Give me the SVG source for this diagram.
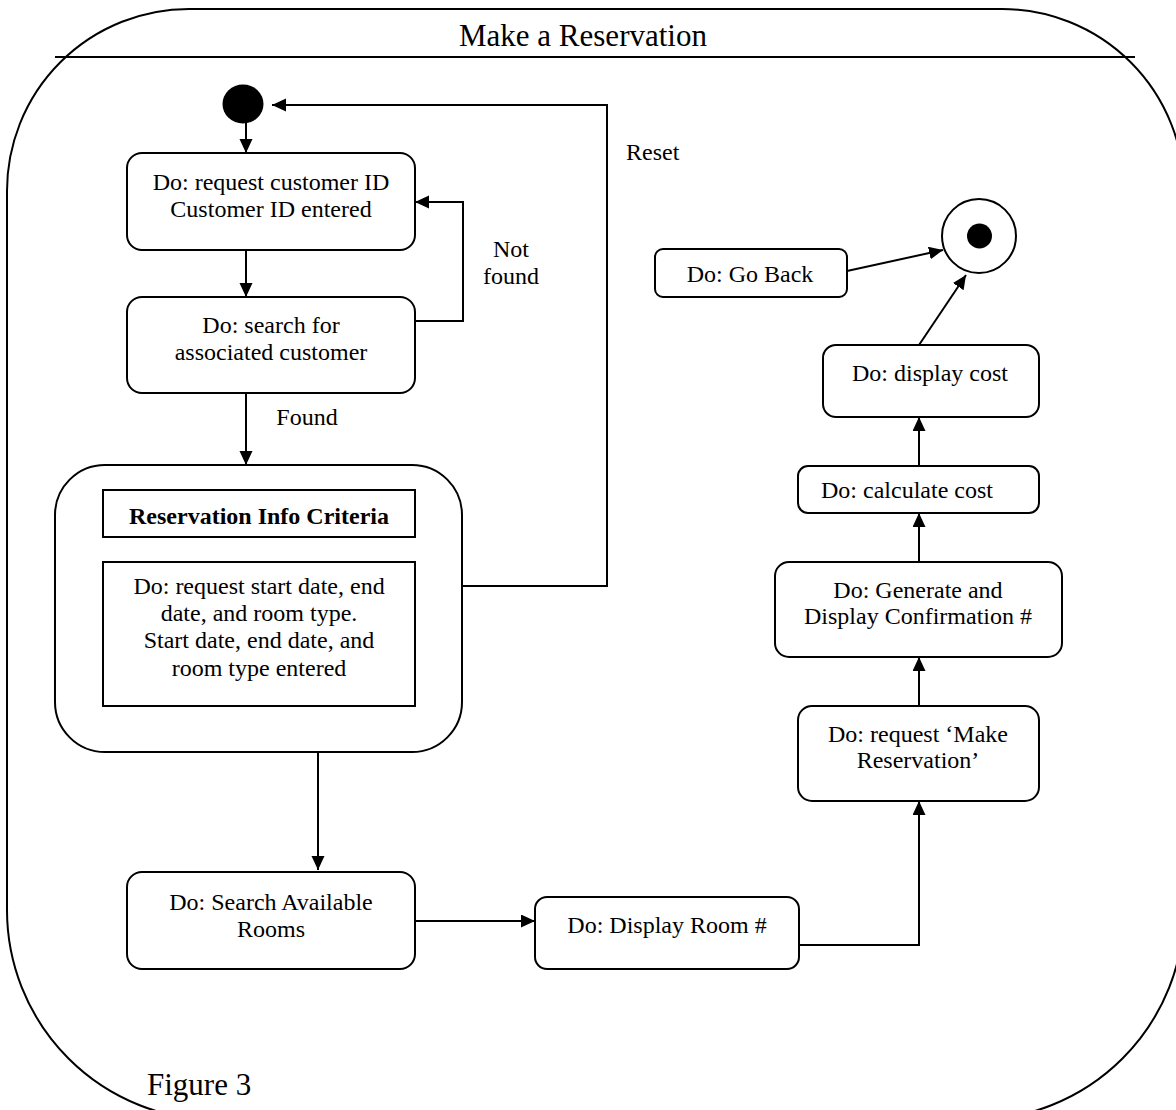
<svg xmlns="http://www.w3.org/2000/svg" width="1176" height="1110" viewBox="0 0 1176 1110">
  <defs>
    <style>
      .frame { fill: none; stroke: #000; stroke-width: 2; }
      .box { fill: #fff; stroke: #000; stroke-width: 2; }
      .edge { fill: none; stroke: #000; stroke-width: 2; marker-end: url(#arrow); }
      .line { fill: none; stroke: #000; stroke-width: 2; }
      text { font-family: "Liberation Serif", "Times New Roman", serif; font-size: 24px; fill: #000; }
      .c { text-anchor: middle; }
      .bold { font-weight: bold; }
      .big { font-size: 31px; }
    </style>
    <marker id="arrow" markerUnits="userSpaceOnUse" markerWidth="15" markerHeight="14" refX="14" refY="6.5" orient="auto">
      <path d="M0,0 L14,6.5 L0,13 Z" fill="#000"/>
    </marker>
  </defs>
  <rect width="1176" height="1110" fill="#fff"/>

  <!-- enclosing superstate -->
  <g id="superstate">
    <path class="frame" d="M189,9 H1002 A182,182 0 0 1 1184,191 V910 A210,210 0 0 1 974,1120 H217 A210,210 0 0 1 7,910 V191 A182,182 0 0 1 189,9 Z"/>
    <line class="line" x1="55" y1="57" x2="1135" y2="57"/>
    <text class="c big" x="583" y="46">Make a Reservation</text>
    <text class="big" x="147" y="1095">Figure 3</text>
  </g>

  <!-- transitions -->
  <g id="connectors">
    <line class="edge" x1="246" y1="123" x2="246" y2="153"/>
    <line class="edge" x1="246" y1="250" x2="246" y2="297"/>
    <polyline class="edge" points="415,321 463,321 463,202 415,202"/>
    <line class="edge" x1="246" y1="393" x2="246" y2="465"/>
    <polyline class="edge" points="462,586 607,586 607,105 272,105"/>
    <line class="edge" x1="318" y1="751" x2="318" y2="870"/>
    <line class="edge" x1="415" y1="921" x2="535" y2="921"/>
    <polyline class="edge" points="799,945 919,945 919,801"/>
    <line class="edge" x1="919" y1="706" x2="919" y2="657"/>
    <line class="edge" x1="919" y1="562" x2="919" y2="513"/>
    <line class="edge" x1="919" y1="466" x2="919" y2="417"/>
    <line class="edge" x1="919" y1="345" x2="966" y2="275"/>
    <line class="edge" x1="847" y1="271" x2="943" y2="250"/>
    <text x="626" y="160">Reset</text>
    <text class="c" x="511" y="257">Not</text>
    <text class="c" x="511" y="284">found</text>
    <text class="c" x="307" y="425">Found</text>
  </g>

  <g id="initial">
    <ellipse cx="243" cy="104" rx="20.5" ry="19.5" fill="#000"/>
  </g>

  <g id="final">
    <circle cx="979" cy="236" r="37" class="box"/>
    <circle cx="979.5" cy="236" r="12.5" fill="#000"/>
  </g>

  <g id="request-id">
    <rect class="box" x="127" y="153" width="288" height="97" rx="15"/>
    <text class="c" x="271" y="190">Do: request customer ID</text>
    <text class="c" x="271" y="217">Customer ID entered</text>
  </g>

  <g id="search-customer">
    <rect class="box" x="127" y="297" width="288" height="96" rx="15"/>
    <text class="c" x="271" y="333">Do: search for</text>
    <text class="c" x="271" y="360">associated customer</text>
  </g>

  <g id="reservation-info">
    <rect class="box" x="55" y="465" width="407" height="287" rx="50"/>
    <rect class="box" x="103" y="490" width="312" height="47"/>
    <text class="c bold" x="259" y="524">Reservation Info Criteria</text>
    <rect class="box" x="103" y="562" width="312" height="144"/>
    <text class="c" x="259" y="594">Do: request start date, end</text>
    <text class="c" x="259" y="621">date, and room type.</text>
    <text class="c" x="259" y="648">Start date, end date, and</text>
    <text class="c" x="259" y="676">room type entered</text>
  </g>

  <g id="search-rooms">
    <rect class="box" x="127" y="872" width="288" height="97" rx="15"/>
    <text class="c" x="271" y="910">Do: Search Available</text>
    <text class="c" x="271" y="937">Rooms</text>
  </g>

  <g id="display-room">
    <rect class="box" x="535" y="897" width="264" height="72" rx="12"/>
    <text class="c" x="667" y="933">Do: Display Room #</text>
  </g>

  <g id="request-make">
    <rect class="box" x="798" y="706" width="241" height="95" rx="14"/>
    <text class="c" x="918" y="742">Do: request ‘Make</text>
    <text class="c" x="918" y="768">Reservation’</text>
  </g>

  <g id="confirmation">
    <rect class="box" x="775" y="562" width="287" height="95" rx="14"/>
    <text class="c" x="918" y="598">Do: Generate and</text>
    <text class="c" x="918" y="624">Display Confirmation #</text>
  </g>

  <g id="calculate-cost">
    <rect class="box" x="798" y="466" width="241" height="47" rx="10"/>
    <text class="c" x="907" y="498">Do: calculate cost</text>
  </g>

  <g id="display-cost">
    <rect class="box" x="823" y="345" width="216" height="72" rx="13"/>
    <text class="c" x="930" y="381">Do: display cost</text>
  </g>

  <g id="go-back">
    <rect class="box" x="655" y="249" width="192" height="48" rx="8"/>
    <text class="c" x="750" y="282">Do: Go Back</text>
  </g>
</svg>
